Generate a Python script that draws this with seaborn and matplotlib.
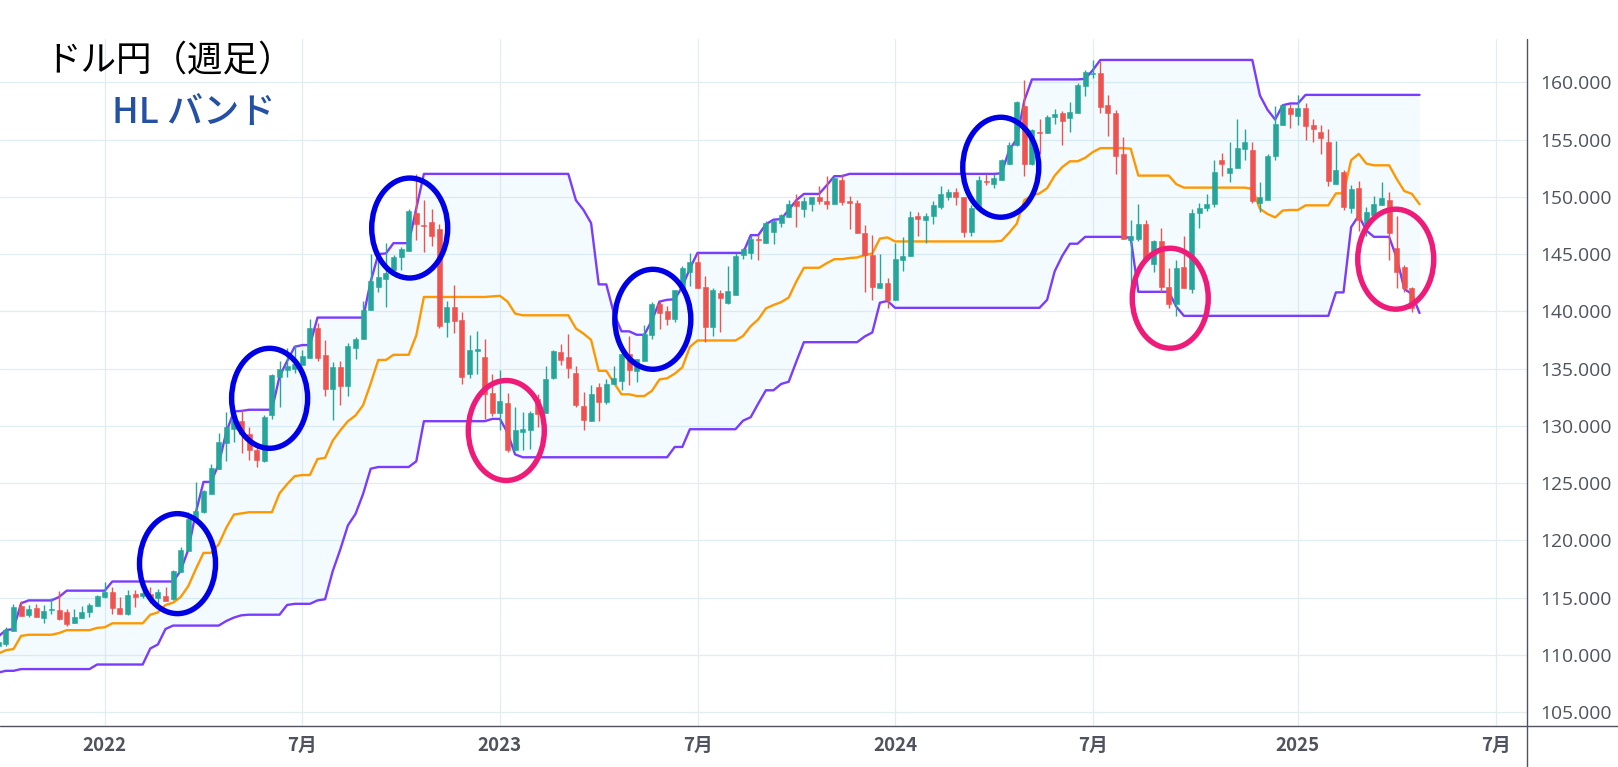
import pandas as pd
import matplotlib
matplotlib.use('Agg')
import matplotlib.pyplot as plt
import seaborn as sns
from matplotlib.lines import Line2D
from matplotlib.patches import Ellipse

# weekly USD/JPY candles, first entry is week -1 (Jan 2022 = week 13)
opens = [110.8,110.9,112.1,114.3,113.5,114.1,113.25,113.95,113.9,113.75,112.8,
    113.2,113.7,114.3,115.05,115.5,114.1,113.6,115.3,115.15,115.3,
    114.95,115.15,114.9,117.25,119.1,121.95,122.5,124.0,126.25,128.5,
    129.75,130.4,129.3,127.9,126.95,130.9,134.25,134.85,135.0,135.3,
    135.95,138.55,136.15,133.2,135.1,133.45,136.8,137.55,140.1,142.1,
    142.8,143.6,144.7,145.3,148.6,147.5,147.8,147.2,139.05,140.35,
    139.2,134.55,136.55,136.0,132.85,131.1,132.0,127.85,129.45,129.6,
    132.35,131.1,134.2,136.45,136.0,134.6,131.75,130.4,133.35,132.05,
    133.65,133.9,136.25,134.8,135.65,137.9,140.65,140.0,139.3,141.9,
    143.4,144.3,142.1,138.6,141.6,140.75,141.45,144.9,145.05,146.35,
    145.95,146.9,147.7,148.25,149.6,148.95,149.4,149.95,149.6,149.4,
    151.5,149.6,149.5,146.8,144.95,142.05,142.45,140.95,144.5,144.8,
    148.3,148.0,148.3,149.15,149.95,150.45,149.95,146.95,149.0,151.4,
    151.15,151.45,152.9,154.5,157.9,152.85,155.65,155.55,156.95,157.3,
    156.85,157.3,159.65,160.75,160.8,158.05,157.35,153.7,146.25,146.35,
    147.6,144.1,146.1,142.15,140.6,143.9,141.95,148.55,149.0,149.35,
    153.25,152.05,152.55,154.15,154.05,149.5,149.75,153.55,156.25,157.75,
    157.05,157.75,156.25,155.7,154.75,151.1,152.2,149.05,150.75,147.6,
    148.45,149.25,149.75,145.5,143.9,142.05]
highs = [111.4,112.4,114.45,114.7,114.35,114.4,114.35,115.0,115.6,114.0,114.0,
    114.3,114.55,115.2,116.4,115.9,115.05,115.65,115.65,115.65,115.95,
    115.75,115.9,117.4,119.4,122.5,125.1,124.4,126.65,129.4,131.2,
    131.0,131.35,129.9,128.2,130.9,134.55,135.65,136.75,137.05,136.6,
    139.35,138.95,137.5,135.55,135.65,137.25,137.75,140.9,145.0,144.45,
    145.95,144.9,145.65,148.95,152.0,149.7,148.95,147.6,140.9,142.3,
    139.95,137.9,138.25,137.55,134.55,134.85,132.9,131.6,131.2,131.3,
    132.8,135.2,136.6,137.15,138.0,135.2,132.95,133.6,133.75,134.05,
    135.2,137.0,137.85,135.8,138.8,140.85,140.9,140.5,141.9,143.95,
    145.05,145.05,143.05,142.0,141.85,143.95,145.05,145.5,146.65,146.65,
    147.85,148.0,148.5,149.7,150.25,150.0,150.0,150.95,151.8,151.7,
    152.0,150.1,149.75,147.55,146.65,145.0,142.9,146.0,146.5,148.8,
    148.7,148.55,149.6,150.95,150.7,150.8,149.95,149.3,151.85,151.95,
    152.0,153.3,154.8,158.4,160.2,155.95,156.75,157.1,157.7,157.45,
    158.25,159.9,161.05,161.95,161.85,158.85,157.6,155.2,147.95,149.4,
    148.0,146.25,147.25,143.8,144.5,146.55,148.95,149.5,150.25,153.2,
    153.85,154.75,156.75,155.9,154.75,151.25,153.75,157.9,158.1,158.1,
    158.85,158.15,156.75,156.25,155.9,154.85,152.35,151.0,151.35,149.15,
    150.1,151.25,150.45,148.3,144.05,142.15]
lows = [110.3,110.8,112.1,113.4,113.3,113.3,112.8,113.6,113.0,112.5,112.8,
    113.2,113.3,114.3,115.0,113.55,113.55,113.5,114.2,115.0,114.55,
    114.4,114.7,114.8,117.25,119.1,121.95,122.35,124.0,126.25,126.95,
    128.6,127.6,127.05,126.4,126.85,130.55,131.6,134.3,134.6,135.3,
    135.95,135.65,132.6,130.5,131.8,132.6,135.8,137.55,140.1,141.7,
    140.4,143.55,143.6,145.3,146.2,145.2,145.7,138.55,137.75,138.1,
    133.65,134.15,134.5,130.55,130.85,129.6,127.7,127.85,127.85,128.0,
    129.9,131.1,134.1,135.3,134.15,131.65,129.6,130.4,130.45,131.9,
    133.65,133.15,133.55,133.85,135.65,137.55,138.45,138.8,139.1,141.9,
    142.25,142.0,137.3,137.8,138.15,140.6,141.45,144.6,144.55,144.45,
    145.95,145.85,147.35,148.25,147.35,148.25,148.75,149.4,148.9,149.4,
    149.3,147.2,146.8,141.7,141.0,142.05,140.3,140.95,143.5,144.8,
    146.6,145.95,147.6,148.9,149.75,149.25,146.5,146.55,149.0,151.0,
    150.8,151.45,152.9,154.4,151.85,152.75,153.75,155.55,156.4,154.5,
    155.7,157.3,158.8,160.35,157.35,155.35,151.95,146.35,141.8,146.1,
    144.45,143.45,141.7,140.3,139.6,142.05,141.6,147.3,148.8,149.1,
    151.8,151.25,152.55,153.25,149.5,148.65,149.7,153.2,156.25,156.0,
    156.25,155.0,154.75,153.7,150.9,151.1,148.85,148.55,147.0,146.55,
    148.45,149.25,144.5,142.05,141.65,139.9]
closes = [111.1,112.2,114.2,113.4,114.0,113.3,113.85,114.0,113.1,112.7,113.3,
    113.75,114.35,115.15,115.5,114.1,113.6,115.25,115.05,115.4,114.95,
    115.5,114.7,117.35,119.15,121.85,122.6,124.3,126.3,128.55,129.9,
    130.5,129.3,127.9,127.05,130.75,134.4,134.95,135.2,135.4,136.1,
    138.55,135.95,133.2,135.1,133.45,136.95,137.55,140.15,142.65,143.0,
    143.35,144.75,145.45,148.75,147.6,147.45,146.55,138.7,140.35,139.15,
    134.25,136.6,136.7,132.75,131.1,132.15,127.85,129.6,129.75,131.1,
    131.05,134.1,136.5,135.75,135.05,131.8,130.5,132.75,132.1,133.65,
    134.15,136.3,134.85,135.8,138.0,140.65,139.85,139.3,141.9,143.75,
    144.3,142.0,138.6,141.85,141.15,141.75,144.85,145.4,146.35,146.2,
    147.75,147.85,148.4,149.4,149.2,149.65,149.95,149.6,149.4,151.6,
    149.55,149.45,146.8,144.9,142.15,142.5,141.0,144.6,144.85,148.2,
    148.05,148.3,149.25,150.2,150.45,149.95,146.95,149.0,151.45,151.25,
    151.6,153.2,154.55,158.25,152.85,155.8,155.6,156.95,157.2,156.6,
    157.4,159.75,160.9,160.8,157.8,157.3,153.6,146.35,146.6,147.6,
    144.45,146.1,142.15,140.65,143.8,142.05,148.6,149.05,149.4,152.2,
    152.85,152.55,154.3,154.75,149.6,149.95,153.6,156.35,158.0,157.2,
    157.75,156.15,155.9,155.1,151.35,152.3,149.15,150.65,147.95,148.65,
    149.35,149.85,146.8,143.4,142.0,140.25]

# HL band, one week longer than the candles
band_upper = [111.6,112.15,112.25,114.5,114.75,114.75,114.75,114.75,115.05,115.6,115.6,
    115.6,115.6,115.6,115.6,116.4,116.4,116.4,116.4,116.4,116.4,
    116.4,116.4,116.4,117.35,119.2,122.45,125.1,125.1,126.65,129.45,
    131.25,131.3,131.4,131.4,131.4,131.4,134.3,135.65,136.9,137.05,
    137.05,139.45,139.45,139.45,139.45,139.45,139.45,139.45,142.6,145.0,
    145.05,145.95,145.95,145.95,149.0,152,152,152,152,152,
    152,152,152,152,152,152,152,152,152,152,
    152,152,152,152,152,149.7,148.85,147.7,142.35,142.35,
    139.8,138.25,138.25,137.95,137.95,139.2,140.85,141,141.05,142.15,
    143.75,145.1,145.1,145.1,145.1,145.1,145.1,145.1,146.65,146.65,
    147.6,148,148.05,148.85,149.7,150.25,150.25,150.25,151,151.8,
    151.8,152,152,152,152,152,152,152,152,152,
    152,152,152,152,152,152,152,152,152,152,
    152,152.05,154.05,155.05,158.4,160.25,160.25,160.25,160.25,160.25,
    160.25,160.25,160.3,161.05,161.95,161.95,161.95,161.95,161.95,161.95,
    161.95,161.95,161.95,161.95,161.95,161.95,161.95,161.95,161.95,161.95,
    161.95,161.95,161.95,161.95,161.95,158.85,157.6,156.75,158,158.15,
    158.15,158.9,158.9,158.9,158.9,158.9,158.9,158.9,158.9,158.9,
    158.9,158.9,158.9,158.9,158.9,158.9,158.9]
band_mid = [110.1,110.4,110.5,111.65,111.75,111.75,111.75,111.75,111.9,112.15,112.15,
    112.15,112.15,112.35,112.4,112.75,112.75,112.75,112.75,112.75,113.5,
    113.7,114.35,114.55,115.05,116,117.5,118.9,118.9,119.65,121.1,
    122.25,122.35,122.45,122.45,122.45,122.45,124.1,124.9,125.6,125.7,
    125.7,127.1,127.2,128.7,129.6,130.4,130.9,131.8,133.7,135.75,
    135.75,136.2,136.2,136.2,137.9,141.25,141.25,141.25,141.25,141.25,
    141.25,141.25,141.25,141.25,141.3,141.35,140.85,139.8,139.65,139.65,
    139.65,139.65,139.65,139.65,139.65,138.5,138.05,137.5,134.8,134.8,
    133.75,132.75,132.75,132.6,132.6,133.05,134.05,134.15,134.55,135.1,
    136.9,137.45,137.45,137.45,137.45,137.45,137.45,137.85,138.7,139.3,
    140.25,140.55,140.8,141.2,142.6,143.8,143.8,143.8,144.2,144.55,
    144.55,144.65,144.7,144.9,145.05,146.35,146.45,146.1,146.1,146.1,
    146.1,146.1,146.1,146.1,146.1,146.1,146.1,146.1,146.1,146.1,
    146.1,146.15,146.85,147.65,149.7,150.1,150.3,150.75,151.85,152.6,
    153.1,153.1,153.4,153.9,154.25,154.25,154.25,154.25,154.2,151.85,
    151.85,151.85,151.85,151.85,151.1,150.8,150.8,150.8,150.8,150.8,
    150.8,150.8,150.8,150.8,150.7,148.95,148.5,148.2,148.8,148.85,
    148.85,149.25,149.25,149.25,149.25,150.3,150.3,153.2,153.75,152.9,
    152.75,152.75,152.75,151.55,150.5,150.25,149.35]
band_lower = [108.45,108.6,108.6,108.75,108.75,108.75,108.75,108.75,108.75,108.75,108.75,
    108.75,108.75,109.15,109.15,109.15,109.15,109.15,109.15,109.15,110.55,
    110.9,112.25,112.55,112.55,112.55,112.55,112.55,112.55,112.55,112.95,
    113.25,113.45,113.5,113.5,113.5,113.5,113.5,114.35,114.45,114.45,
    114.45,114.75,114.85,117.3,119.2,121.3,122.3,124.05,126.25,126.4,
    126.4,126.4,126.4,126.4,126.9,130.4,130.4,130.4,130.4,130.4,
    130.4,130.4,130.4,130.4,130.6,130.6,129.4,127.5,127.25,127.25,
    127.25,127.25,127.25,127.25,127.25,127.25,127.25,127.25,127.25,127.25,
    127.25,127.25,127.25,127.25,127.25,127.25,127.25,127.25,128.15,128.15,
    129.7,129.7,129.7,129.7,129.7,129.7,129.7,130.45,130.75,131.95,
    133.1,133.1,133.65,133.85,135.6,137.3,137.3,137.3,137.3,137.3,
    137.3,137.3,137.3,137.8,138.15,140.75,140.9,140.3,140.3,140.3,
    140.3,140.3,140.3,140.3,140.3,140.3,140.3,140.3,140.3,140.3,
    140.3,140.3,140.3,140.3,140.3,140.3,140.3,141,143.5,144.85,
    145.9,145.9,146.5,146.5,146.5,146.5,146.5,146.5,146.4,141.7,
    141.7,141.7,141.7,141.7,140.4,139.6,139.6,139.6,139.6,139.6,
    139.6,139.6,139.6,139.6,139.6,139.6,139.6,139.6,139.6,139.6,
    139.6,139.6,139.6,139.6,139.6,141.65,141.65,147.35,148.35,147.05,
    146.5,146.5,146.5,144.65,141.95,141.5,139.85]

tick_weeks = [13, 39, 65, 91, 117, 143, 170, 196]
tick_labels = ['2022', '7月', '2023', '7月', '2024', '7月', '2025', '7月']
price_ticks = [105, 110, 115, 120, 125, 130, 135, 140, 145, 150, 155, 160]

# hand drawn circles: week, price
blue_circles = [(22.58, 117.96), (34.7, 132.4), (53.13, 147.27), (85.12, 139.3), (130.9, 152.58)]
pink_circles = [(65.84, 129.59), (153.2, 141.14), (182.87, 144.55)]

W, H = 1618, 767
GREEN, RED = '#26a69a', '#ef5350'
PURPLE, ORANGE = '#7a3dff', '#ff9800'
GRID = '#e2edf2'
AXIS = '#50535e'

sns.set_theme(style='white')
plt.rcParams['font.family'] = ['Noto Sans CJK JP', 'DejaVu Sans']

candles = pd.DataFrame({'open': opens, 'high': highs, 'low': lows, 'close': closes})
candles['week'] = range(-1, len(candles) - 1)
candles['color'] = [GREEN if c >= o else RED for o, c in zip(opens, closes)]

bands = pd.DataFrame({'upper': band_upper, 'mid': band_mid, 'lower': band_lower})
bands['week'] = range(-1, len(bands) - 1)

fig = plt.figure(figsize=(W / 100, H / 100), dpi=100)
ax = fig.add_axes([0, 1 - 726 / H, 1527.3 / W, (726 - 39) / H])

ax.fill_between(bands['week'], bands['lower'], bands['upper'], color='#03a9f4', alpha=0.045, lw=0, zorder=1)
for col, color in [('upper', PURPLE), ('lower', PURPLE), ('mid', ORANGE)]:
    sns.lineplot(data=bands, x='week', y=col, color=color, lw=1.7, estimator=None, ax=ax, zorder=2)

# wicks then bodies
ax.vlines(candles['week'], candles['low'], candles['high'], colors=candles['color'], lw=1.0, zorder=3)
body_low = candles[['open', 'close']].min(axis=1)
body_height = (candles['open'] - candles['close']).abs()
ax.bar(candles['week'], body_height, bottom=body_low, width=0.66, color=candles['color'],
       edgecolor=candles['color'], lw=0.4, zorder=4)

for centers, color in [(blue_circles, '#0000e6'), (pink_circles, '#ee1c78')]:
    for week, price in centers:
        ax.add_patch(Ellipse((week, price), 10, 8.73, fill=False, ec=color, lw=3.9, zorder=5))

ax.set_xlim(-0.776, 200.18)
ax.set_ylim(103.78, 163.78)
ax.set_xlabel('')
ax.set_ylabel('')
ax.set_xticks(tick_weeks)
ax.set_xticklabels(tick_labels, fontsize=13.5, fontweight='bold', color=AXIS)
ax.yaxis.tick_right()
ax.set_yticks(price_ticks)
ax.set_yticklabels(['%.3f' % p for p in price_ticks], fontsize=13.9, color=AXIS, family='Open Sans')
ax.tick_params(axis='x', length=0, pad=7)
ax.tick_params(axis='y', length=0, pad=9.5)
ax.grid(True, color=GRID, lw=0.9, zorder=0)
ax.set_axisbelow(True)
sns.despine(ax=ax, left=True, bottom=True, right=True, top=True)

# axis rules run past the plot area, like the chart window
fig.add_artist(Line2D([0, 1], [1 - 726 / H, 1 - 726 / H], color=AXIS, lw=1.0))
fig.add_artist(Line2D([1527.3 / W, 1527.3 / W], [0, 1 - 39 / H], color=AXIS, lw=1.0))

fig.text(45 / W, 1 - 61 / H, 'ドル円（週足）', fontsize=25.6, color='black', va='center', ha='left')
fig.text(112 / W, 1 - 113 / H, 'HL バンド', fontsize=26, color='#2451a4', va='center', ha='left', fontweight='medium')

fig.savefig('out.png', dpi=100)
